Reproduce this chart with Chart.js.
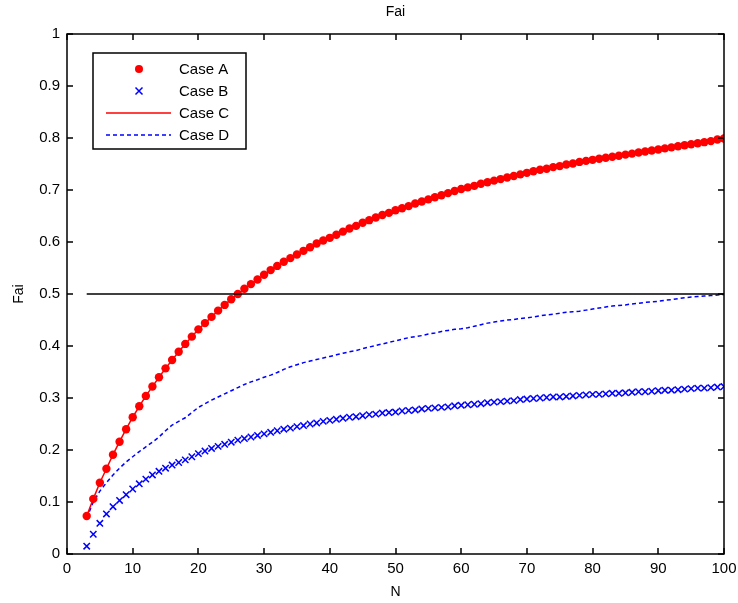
<!DOCTYPE html>
<html>
<head>
<meta charset="utf-8">
<script src="https://cdn.jsdelivr.net/npm/chart.js@4/dist/chart.umd.min.js"></script>
<style>
html,body{margin:0;padding:0;background:#fff;}
#wrap{width:738px;height:603px;position:relative;}
</style>
</head>
<body>
<div id="wrap"><canvas id="c" width="738" height="603"></canvas></div>
<script>
const N = [3,4,5,6,7,8,9,10,11,12,13,14,15,16,17,18,19,20,21,22,23,24,25,26,27,28,29,30,31,32,33,34,35,36,37,38,39,40,41,42,43,44,45,46,47,48,49,50,51,52,53,54,55,56,57,58,59,60,61,62,63,64,65,66,67,68,69,70,71,72,73,74,75,76,77,78,79,80,81,82,83,84,85,86,87,88,89,90,91,92,93,94,95,96,97,98,99,100];

const caseA = [0.073,0.106,0.137,0.164,0.191,0.216,0.240,0.263,0.284,0.304,0.322,0.340,0.357,0.373,0.389,0.404,0.418,0.432,0.444,0.456,0.468,0.479,0.490,0.500,0.510,0.519,0.528,0.537,0.546,0.554,0.562,0.569,0.576,0.583,0.590,0.597,0.603,0.608,0.614,0.620,0.626,0.631,0.637,0.642,0.647,0.652,0.656,0.661,0.665,0.669,0.674,0.678,0.682,0.686,0.690,0.694,0.698,0.702,0.705,0.708,0.712,0.715,0.718,0.721,0.724,0.727,0.730,0.733,0.736,0.739,0.741,0.744,0.746,0.749,0.751,0.754,0.756,0.758,0.760,0.762,0.764,0.766,0.768,0.770,0.772,0.774,0.776,0.778,0.780,0.782,0.784,0.786,0.788,0.790,0.792,0.794,0.797,0.799];

const caseB = [0.015,0.038,0.059,0.077,0.091,0.103,0.114,0.125,0.135,0.144,0.152,0.159,0.165,0.171,0.176,0.181,0.187,0.193,0.198,0.203,0.207,0.211,0.215,0.219,0.222,0.225,0.228,0.231,0.234,0.237,0.240,0.242,0.245,0.247,0.250,0.252,0.255,0.257,0.259,0.261,0.263,0.264,0.266,0.268,0.269,0.271,0.272,0.273,0.275,0.276,0.277,0.279,0.280,0.281,0.282,0.283,0.285,0.286,0.287,0.288,0.289,0.291,0.292,0.293,0.294,0.295,0.297,0.298,0.299,0.300,0.301,0.302,0.302,0.303,0.304,0.305,0.306,0.307,0.307,0.308,0.309,0.309,0.310,0.311,0.312,0.312,0.313,0.314,0.315,0.315,0.316,0.317,0.318,0.319,0.319,0.320,0.321,0.322];

const caseC = caseA.slice();

const caseD = [0.069,0.100,0.121,0.137,0.152,0.165,0.177,0.187,0.197,0.206,0.215,0.225,0.237,0.248,0.255,0.262,0.272,0.282,0.289,0.296,0.302,0.308,0.314,0.320,0.326,0.331,0.335,0.340,0.344,0.349,0.355,0.360,0.364,0.368,0.371,0.374,0.377,0.380,0.383,0.386,0.389,0.391,0.395,0.398,0.401,0.404,0.407,0.410,0.413,0.416,0.418,0.420,0.423,0.425,0.428,0.430,0.432,0.433,0.435,0.438,0.441,0.444,0.446,0.448,0.450,0.451,0.453,0.454,0.456,0.458,0.460,0.461,0.463,0.465,0.466,0.467,0.469,0.471,0.473,0.475,0.477,0.478,0.479,0.481,0.482,0.484,0.485,0.486,0.488,0.489,0.491,0.493,0.494,0.495,0.496,0.497,0.498,0.499];

const refLineX = [3,100];
const refLineY = [0.5,0.5];

const xTicks = [0,10,20,30,40,50,60,70,80,90,100];
const yTicks = [0,0.1,0.2,0.3,0.4,0.5,0.6,0.7,0.8,0.9,1];

const labels = ['Case A','Case B','Case C','Case D'];
const titleText = 'Fai';
const xTitle = 'N';
const yTitle = 'Fai';

const FONT = '"Liberation Sans Narrow","Liberation Sans",Arial,sans-serif';
const RED = '#ff0000', BLUE = '#0000ff';

function pts(xs, ys){ return xs.map((x,i)=>({x:x, y:ys[i]})); }

const matlabPlugin = {
  id: 'matlab',
  afterDatasetsDraw(chart){
    const ctx = chart.ctx;
    const a = chart.chartArea;
    const xs = chart.scales.x, ys = chart.scales.y;
    ctx.save();
    ctx.strokeStyle = '#000';
    ctx.lineWidth = 1.5;
    ctx.strokeRect(Math.round(a.left), Math.round(a.top), Math.round(a.right-a.left), Math.round(a.bottom-a.top));
    const tl = 6;
    ctx.beginPath();
    xTicks.forEach(v=>{
      const px = Math.round(xs.getPixelForValue(v));
      ctx.moveTo(px, a.bottom); ctx.lineTo(px, a.bottom-tl);
      ctx.moveTo(px, a.top); ctx.lineTo(px, a.top+tl);
    });
    yTicks.forEach(v=>{
      const py = Math.round(ys.getPixelForValue(v));
      ctx.moveTo(a.left, py); ctx.lineTo(a.left+tl, py);
      ctx.moveTo(a.right, py); ctx.lineTo(a.right-tl, py);
    });
    ctx.stroke();

    ctx.fillStyle = '#000';
    ctx.font = '14px ' + FONT;
    ctx.textAlign = 'center';
    ctx.textBaseline = 'middle';
    ctx.fillText(titleText, (a.left+a.right)/2, 12);
    ctx.fillText(xTitle, (a.left+a.right)/2, 592);
    ctx.save();
    ctx.translate(19, (a.top+a.bottom)/2);
    ctx.rotate(-Math.PI/2);
    ctx.fillText(yTitle, 0, 0);
    ctx.restore();

    // legend
    const bx = 93, by = 53, bw = 153, bh = 96;
    ctx.fillStyle = '#fff';
    ctx.fillRect(bx, by, bw, bh);
    ctx.strokeStyle = '#000';
    ctx.lineWidth = 1.5;
    ctx.strokeRect(bx, by, bw, bh);
    const rows = [69, 91, 113, 135];
    const mx = 139, l0 = 106, l1 = 171, tx = 179;
    ctx.fillStyle = RED;
    ctx.beginPath(); ctx.arc(mx, rows[0], 4, 0, Math.PI*2); ctx.fill();
    ctx.strokeStyle = BLUE; ctx.lineWidth = 1.5;
    ctx.beginPath();
    ctx.moveTo(mx-3.5, rows[1]-3.5); ctx.lineTo(mx+3.5, rows[1]+3.5);
    ctx.moveTo(mx+3.5, rows[1]-3.5); ctx.lineTo(mx-3.5, rows[1]+3.5);
    ctx.stroke();
    ctx.strokeStyle = RED; ctx.lineWidth = 1.5;
    ctx.beginPath(); ctx.moveTo(l0, rows[2]); ctx.lineTo(l1, rows[2]); ctx.stroke();
    ctx.strokeStyle = BLUE; ctx.setLineDash([4,3]);
    ctx.beginPath(); ctx.moveTo(l0, rows[3]); ctx.lineTo(l1, rows[3]); ctx.stroke();
    ctx.setLineDash([]);
    ctx.fillStyle = '#000';
    ctx.textAlign = 'left';
    ctx.font = '15px ' + FONT;
    labels.forEach((t,i)=>ctx.fillText(t, tx, rows[i]+1));
    ctx.restore();
  }
};

new Chart(document.getElementById('c'), {
  type: 'scatter',
  data: {
    datasets: [
      { label: 'ref', data: pts(refLineX, refLineY), showLine: true, borderColor: '#000', borderWidth: 1.5, pointRadius: 0, order: 0 },
      { label: labels[0], data: pts(N, caseA), showLine: false, pointRadius: 4.2, pointBackgroundColor: RED, pointBorderWidth: 0, borderColor: RED, order: 2 },
      { label: labels[1], data: pts(N, caseB), showLine: false, pointStyle: 'crossRot', pointRadius: 4.5, borderColor: BLUE, pointBorderColor: BLUE, pointBorderWidth: 1.5, order: 3 },
      { label: labels[2], data: pts(N, caseC), showLine: true, borderColor: RED, borderWidth: 1.5, pointRadius: 0, order: 1 },
      { label: labels[3], data: pts(N, caseD), showLine: true, borderColor: BLUE, borderWidth: 1.5, borderDash: [4,3], pointRadius: 0, order: 4 }
    ]
  },
  options: {
    responsive: false,
    animation: false,
    layout: { padding: { top: 34, right: 14, left: 0, bottom: 0 } },
    plugins: { legend: { display: false }, tooltip: { enabled: false }, title: { display: false } },
    scales: {
      x: {
        type: 'linear', min: 0, max: 100,
        afterFit(s){ s.height = 49; s.paddingLeft = 0; s.paddingRight = 0; },
        afterBuildTicks(s){ s.ticks = xTicks.map(v=>({value:v})); },
        grid: { display: false, drawTicks: false },
        border: { display: false },
        ticks: { color: '#000', padding: 6, maxRotation: 0, autoSkip: false, font: { family: FONT, size: 15 } }
      },
      y: {
        type: 'linear', min: 0, max: 1,
        afterFit(s){ s.width = 67; s.paddingTop = 0; s.paddingBottom = 0; },
        afterBuildTicks(s){ s.ticks = yTicks.map(v=>({value:v})); },
        grid: { display: false, drawTicks: false },
        border: { display: false },
        ticks: { color: '#000', padding: 7, autoSkip: false, font: { family: FONT, size: 15 }, callback: v => String(+(+v).toFixed(1)) }
      }
    }
  },
  plugins: [matlabPlugin]
});
</script>
</body>
</html>
